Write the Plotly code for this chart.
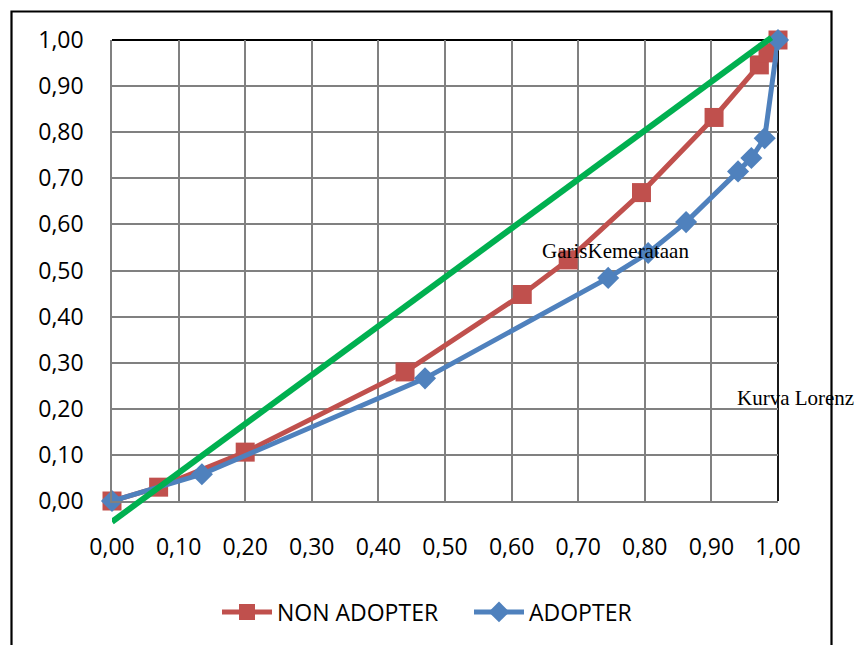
import plotly.graph_objects as go

# Cumulative share of households (x) and of income (y)
non_adopter_x = [0.00, 0.07, 0.20, 0.44, 0.616, 0.685, 0.795, 0.904, 0.972, 0.985, 1.00]
non_adopter_y = [0.00, 0.03, 0.106, 0.28, 0.448, 0.523, 0.669, 0.832, 0.946, 0.972, 1.00]

adopter_x = [0.00, 0.135, 0.47, 0.745, 0.805, 0.862, 0.940, 0.960, 0.980, 1.00]
adopter_y = [0.00, 0.058, 0.266, 0.484, 0.538, 0.605, 0.715, 0.744, 0.787, 1.00]

# Line of equality as drawn on the chart
equality_x = [0.00, 0.99]
equality_y = [-0.045, 1.005]

tick_vals = [i / 10 for i in range(11)]

W, H = 855, 645
# plot-area pixel box
PL, PR, PT, PB = 112, 778, 40, 501

def px_x(p):
    return p / W

def px_y(p):
    return 1 - p / H

x_dom = [px_x(PL), px_x(PR)]
y_dom = [px_y(PB), px_y(PT)]

# wider box for the equality line so it can run past the grid
E_TOP, E_BOT = 28, 540
unit = PB - PT
y2_range = [-(E_BOT - PB) / unit, 1 + (PT - E_TOP) / unit]
y2_dom = [px_y(E_BOT), px_y(E_TOP)]

RED = "#C0504D"
BLUE = "#4F81BD"
GREEN = "#00B050"
GRID = "#808080"
TICK_FONT = dict(family="Open Sans", size=23, color="#000000")

fig = go.Figure()

fig.add_trace(go.Scatter(
    x=non_adopter_x, y=non_adopter_y, name="NON ADOPTER",
    mode="lines+markers",
    line=dict(color=RED, width=5),
    marker=dict(symbol="square", size=19, color=RED),
    cliponaxis=False,
))
fig.add_trace(go.Scatter(
    x=adopter_x, y=adopter_y, name="ADOPTER",
    mode="lines+markers",
    line=dict(color=BLUE, width=5),
    marker=dict(symbol="diamond", size=17, color=BLUE),
    cliponaxis=False,
))
fig.add_trace(go.Scatter(
    x=equality_x, y=equality_y, xaxis="x2", yaxis="y2",
    mode="lines", line=dict(color=GREEN, width=6),
    showlegend=False, hoverinfo="skip",
))

fig.update_layout(
    width=W, height=H,
    margin=dict(l=0, r=0, t=0, b=0, autoexpand=False),
    paper_bgcolor="white", plot_bgcolor="rgba(0,0,0,0)",
    separators=",.",
    xaxis=dict(
        domain=x_dom, range=[0, 1], anchor="y",
        tickvals=tick_vals, tickformat=".2f",
        showgrid=True, gridcolor=GRID, gridwidth=1.5,
        showline=True, linecolor=GRID, linewidth=1.5,
        zeroline=False, ticks="outside", ticklen=25,
        tickcolor="rgba(0,0,0,0)",
        tickfont=TICK_FONT, automargin=False,
    ),
    yaxis=dict(
        domain=y_dom, range=[0, 1], anchor="x",
        tickvals=tick_vals, tickformat=".2f",
        showgrid=True, gridcolor=GRID, gridwidth=1.5,
        showline=True, linecolor=GRID, linewidth=1.5,
        zeroline=False, ticks="outside", ticklen=22,
        tickcolor="rgba(0,0,0,0)",
        tickfont=TICK_FONT, automargin=False,
    ),
    xaxis2=dict(
        domain=x_dom, range=[0, 1], anchor="y2",
        visible=False, showgrid=False, zeroline=False,
    ),
    yaxis2=dict(
        domain=y2_dom, range=y2_range, anchor="x2",
        visible=False, showgrid=False, zeroline=False,
    ),
    legend=dict(
        orientation="h", x=px_x(217), xanchor="left",
        y=px_y(612), yanchor="middle",
        font=dict(family="Open Sans", size=23, color="#000000"),
        itemwidth=50, entrywidth=187, bgcolor="rgba(0,0,0,0)",
    ),
    annotations=[
        dict(text="GarisKemerataan", xref="paper", yref="paper",
             x=px_x(615), y=px_y(251), xanchor="center", yanchor="middle",
             showarrow=False,
             font=dict(family="Liberation Serif", size=21, color="#000000")),
        dict(text="Kurva Lorenz", xref="paper", yref="paper",
             x=px_x(735), y=px_y(398), xanchor="left", yanchor="middle",
             showarrow=False,
             font=dict(family="Liberation Serif", size=21, color="#000000")),
    ],
    shapes=[
        # outer chart frame
        dict(type="rect", xref="paper", yref="paper",
             x0=px_x(11.5), x1=px_x(831.5), y0=px_y(700), y1=px_y(11.5),
             line=dict(color="#000000", width=2.2), fillcolor="rgba(0,0,0,0)",
             layer="above"),
        # top and right edges of the plot area
        dict(type="line", xref="paper", yref="paper",
             x0=x_dom[0], x1=x_dom[1], y0=y_dom[1], y1=y_dom[1],
             line=dict(color="#000000", width=1.8), layer="below"),
        dict(type="line", xref="paper", yref="paper",
             x0=x_dom[1], x1=x_dom[1], y0=y_dom[0], y1=y_dom[1],
             line=dict(color="#000000", width=1.8), layer="below"),
    ],
)

fig.write_html("out.html")
